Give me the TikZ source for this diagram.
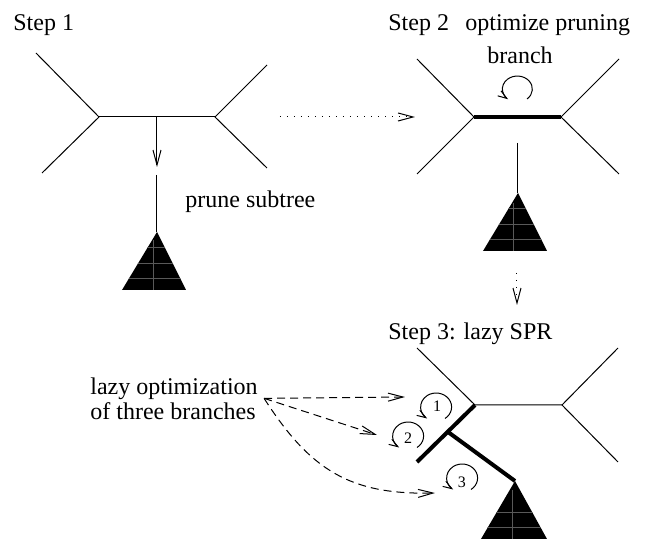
\documentclass[tikz,border=0pt]{standalone}
\usepackage{fontspec}
\setmainfont{Liberation Serif}
\usetikzlibrary{arrows.meta}
\usetikzlibrary{calc}

\tikzset{
  branch/.style={line width=0.5pt},
  heavybranch/.style={line width=2pt},
  lbl/.style={font=\rmfamily\fontsize{12}{12.5}\selectfont, inner sep=0pt},
  num/.style={font=\rmfamily\fontsize{8}{9}\selectfont, inner sep=0pt},
  veetip/.tip={Straight Barb[length=7.5pt,width=4pt]},
  dotarrow/.style={-veetip, line width=0.5pt, dash pattern=on 0.5pt off 3pt},
  dasharrow/.style={-veetip, line width=0.5pt, dash pattern=on 4pt off 2.5pt},
  loopy/.style={-{Straight Barb[length=4.5pt,width=3pt]}, line width=0.5pt},
  hatch/.style={black!65, line width=0.4pt}
}

\begin{document}
\begin{tikzpicture}[x=0.5pt,y=-0.5pt]
    \useasboundingbox (0,0) rectangle (650,540);

    % step 1: the tree before pruning
    \node[lbl, anchor=base west] (s1) at (13,31) {Step 1};
    \coordinate (la1) at (36,53);
    \coordinate (lb1) at (42,173);
    \coordinate (a1) at (99,117);
    \coordinate (b1) at (215,117);
    \coordinate (ra1) at (267,65);
    \coordinate (rb1) at (267,168);
    \coordinate (m1) at (157,117);
    \coordinate (p1) at (157,167);
    \coordinate (t1) at (157,175);
    \coordinate (r1) at (157,232);
    \draw[branch] (la1) -- (a1) -- (lb1);
    \draw[branch] (a1) -- (b1);
    \draw[branch] (ra1) -- (b1) -- (rb1);
    \draw[branch, -veetip] (m1) -- (p1);
    \draw[branch] (t1) -- (r1);
    \fill[black] (r1) -- (122,290) -- (186,290) -- cycle;
    \begin{scope}
        \clip (r1) -- (122,290) -- (186,290) -- cycle;
        \draw[hatch] (100,247) -- (200,247) (100,263) -- (200,263) (100,278) -- (200,278);
        \draw[hatch] (153,240) -- (153,295);
    \end{scope}
    \node[lbl, anchor=base west] (prune) at (185,208) {prune subtree};

    % step 2: optimize the pruning branch
    \node[lbl, anchor=base west] (s2) at (388,31) {Step 2};
    \node[lbl, anchor=base west] (opt) at (465,31) {optimize pruning};
    \node[lbl, anchor=base west] (opt2) at (487,64) {branch};
    \coordinate (la2) at (417,59);
    \coordinate (lb2) at (417,174);
    \coordinate (a2) at (474,117);
    \coordinate (b2) at (561,117);
    \coordinate (ra2) at (619,59);
    \coordinate (rb2) at (619,174);
    \coordinate (t2) at (518,143);
    \coordinate (r2) at (518,193);
    \coordinate (c2) at (517,89);
    \draw[branch] (la2) -- (a2) -- (lb2);
    \draw[heavybranch] (a2) -- (b2);
    \draw[branch] (ra2) -- (b2) -- (rb2);
    \draw[branch] (t2) -- (r2);
    \fill[black] (r2) -- (483,251) -- (547,251) -- cycle;
    \begin{scope}
        \clip (r2) -- (483,251) -- (547,251) -- cycle;
        \draw[hatch] (460,208) -- (560,208) (460,224) -- (560,224) (460,239) -- (560,239);
        \draw[hatch] (513,203) -- (513,255);
    \end{scope}
    \draw[loopy] ([shift={(10,10)}]c2) arc[start angle=-50, end angle=232, x radius=7.5pt, y radius=6.5pt];

    % steps in between
    \coordinate (d1) at (280,117);
    \coordinate (d2) at (415,117);
    \coordinate (d3) at (517,273);
    \coordinate (d4) at (517,305);
    \draw[dotarrow] (d1) -- (d2);
    \draw[dotarrow] (d3) -- (d4);

    % step 3: lazy SPR
    \node[lbl, anchor=base west] (s3) at (388,340) {Step 3: lazy SPR};
    \coordinate (la3) at (417,348);
    \coordinate (a3) at (475,405);
    \coordinate (b3) at (562,405);
    \coordinate (ra3) at (618,348);
    \coordinate (rb3) at (618,462);
    \coordinate (lb3) at (417,462);
    \coordinate (j3) at ($(a3)!0.47!(lb3)$);
    \coordinate (r3) at (515,481);
    \draw[branch] (la3) -- (a3) -- (b3);
    \draw[branch] (ra3) -- (b3) -- (rb3);
    \draw[heavybranch] (a3) -- (lb3);
    \draw[heavybranch] (j3) -- (r3);
    \fill[black] (r3) -- (481,539) -- (547,539) -- cycle;
    \begin{scope}
        \clip (r3) -- (481,539) -- (547,539) -- cycle;
        \draw[hatch] (460,512) -- (560,512) (460,527) -- (560,527);
        \draw[hatch] (512,490) -- (512,545);
    \end{scope}

    \node[num] (l1) at (437,406) {1};
    \node[num] (l2) at (408,438) {2};
    \node[num] (l3) at (462,482) {3};
    \draw[loopy] ([shift={(8,12.5)}]l1) arc[start angle=-55, end angle=235, x radius=7.75pt, y radius=7pt];
    \draw[loopy] ([shift={(9,9.5)}]l2) arc[start angle=-55, end angle=235, x radius=7.75pt, y radius=7pt];
    \draw[loopy] ([shift={(9,7.5)}]l3) arc[start angle=-55, end angle=235, x radius=7.75pt, y radius=7pt];

    \node[lbl, align=left, anchor=north west] (lazy) at (90,377) {lazy optimization\\of three branches};
    \coordinate (e1) at (405,397);
    \coordinate (e2) at (377,435);
    \coordinate (e3) at (435,493);
    \draw[dasharrow] ([xshift=3pt]lazy.east) -- (e1);
    \draw[dasharrow] ([xshift=3pt]lazy.east) -- (e2);
    \draw[dasharrow] ([xshift=3pt]lazy.east) .. controls (310,470) and (350,495) .. (e3);
\end{tikzpicture}
\end{document}
